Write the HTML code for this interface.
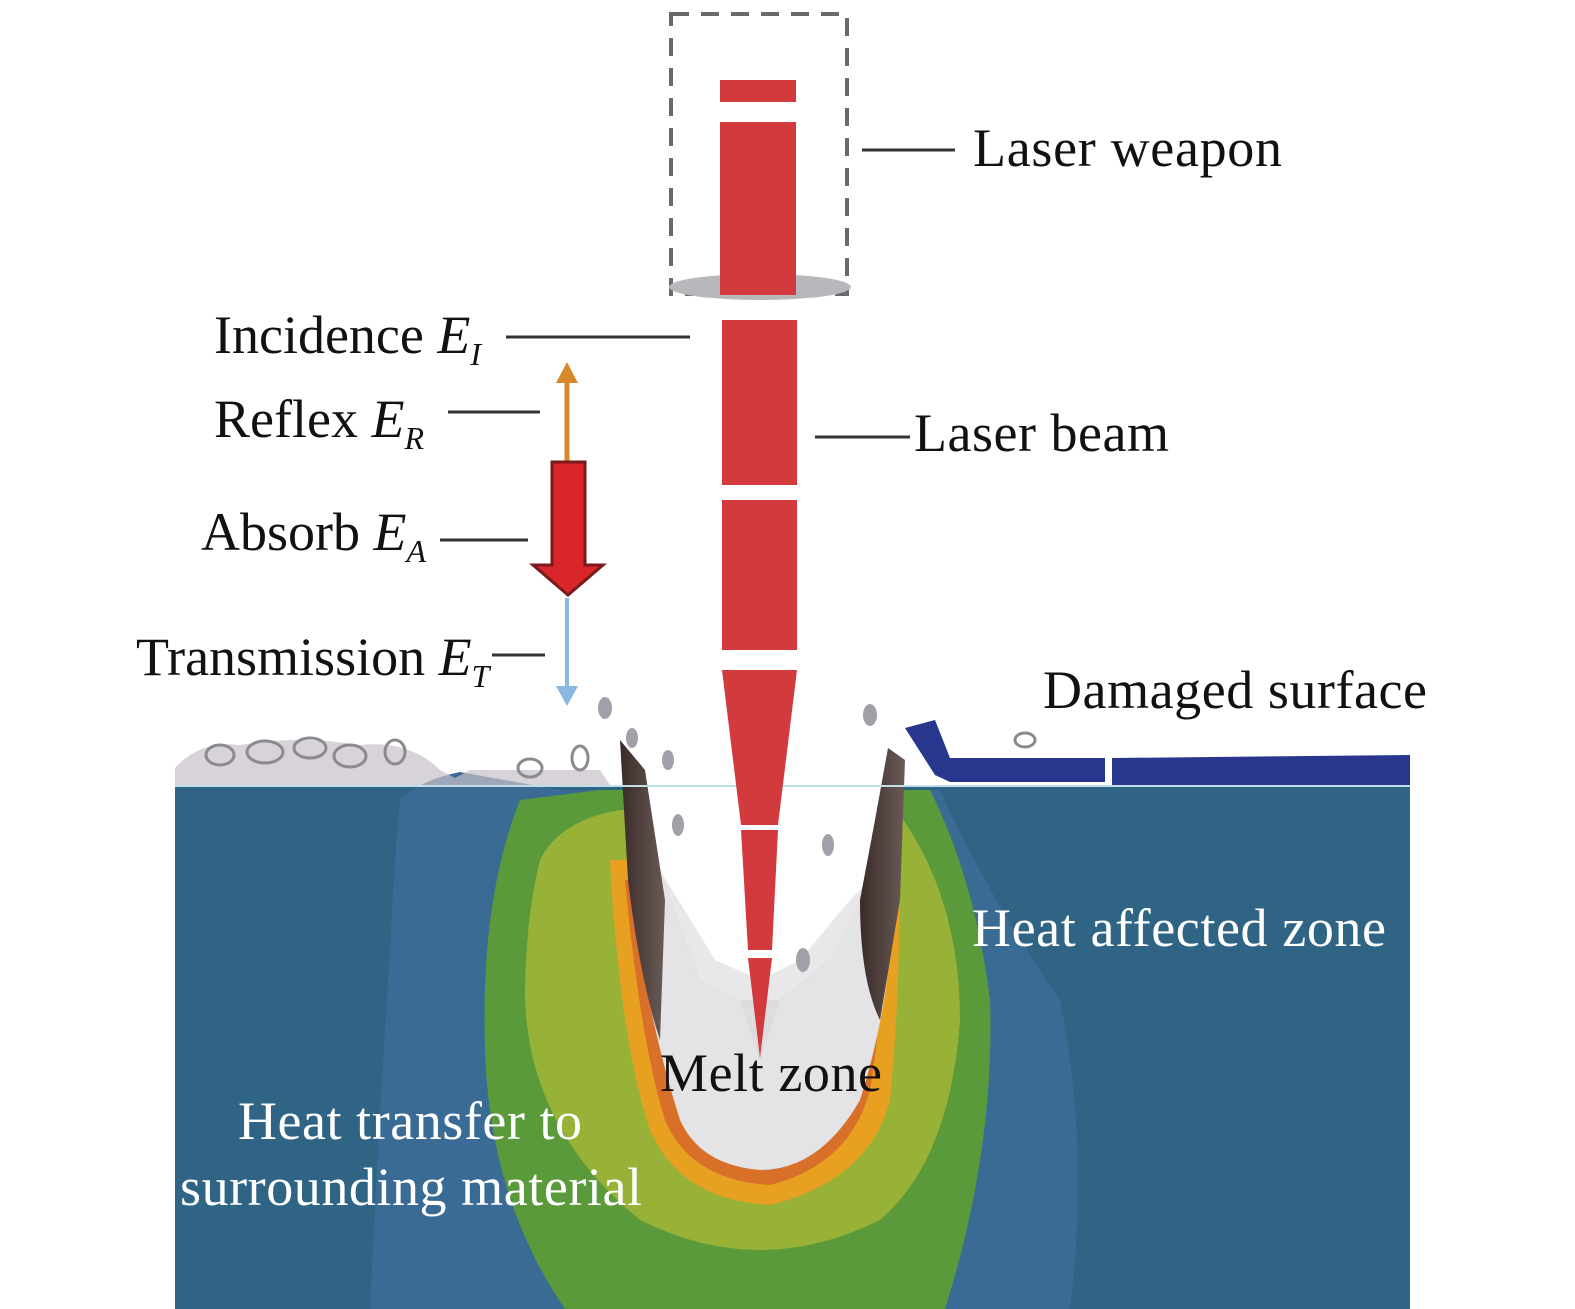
<!DOCTYPE html>
<html><head><style>
body{margin:0;background:#fff;}
svg{display:block}
text{font-family:"Liberation Serif",serif;}
</style></head><body>
<svg width="1575" height="1309" viewBox="0 0 1575 1309" xmlns="http://www.w3.org/2000/svg">
<defs>
<linearGradient id="wall" x1="0" x2="1"><stop offset="0" stop-color="#3a2a28"/><stop offset="1" stop-color="#6a5a58"/></linearGradient>
</defs>
<!-- material -->
<rect x="175" y="785" width="1235" height="524" fill="#2f6485"/>
<path d="M400 800 Q420 780 460 772 L560 790 L940 790 Q990 900 1060 1000 Q1090 1150 1070 1309 L370 1309 Q380 1100 390 950 Q395 850 400 800Z" fill="#3a6b95"/>
<!-- heat zones -->
<path d="M520 800 L600 790 L930 790 Q975 880 990 1000 Q995 1150 945 1309 L565 1309 Q490 1200 485 1050 Q480 900 520 800Z" fill="#5a9a3a"/>
<path d="M540 860 Q560 820 620 810 L900 815 Q960 900 960 1020 Q950 1160 880 1220 Q760 1280 640 1220 Q530 1130 525 1000 Q525 920 540 860Z" fill="#a8b838" opacity="0.8"/>
<path d="M610 860 L900 860 Q900 1000 890 1100 Q870 1180 770 1205 Q680 1200 650 1130 Q620 1040 610 860Z" fill="#e8a020"/>
<path d="M625 880 L885 880 Q885 1000 870 1090 Q850 1165 770 1185 Q690 1180 665 1120 Q640 1040 625 880Z" fill="#d8702a"/>
<!-- melt -->
<path d="M630 880 L660 870 L700 980 L740 1000 L780 1000 L830 960 L870 880 L892 880 Q895 990 860 1100 Q820 1170 760 1170 Q700 1165 680 1120 Q645 1010 630 880Z" fill="#e4e3e6"/>
<!-- white crater opening -->
<path d="M640 760 L888 760 L870 880 L830 960 L780 1000 L740 1000 L700 980 L660 870Z" fill="#fff"/>
<path d="M660 870 L700 980 L740 1000 L760 1060 L780 1000 L830 960 L870 880 L850 900 L800 960 L760 980 L715 960Z" fill="#d8d8dc" opacity="0.6"/>
<!-- walls -->
<path d="M620 740 L645 770 L665 900 L660 1040 Q640 980 628 880 Z" fill="url(#wall)"/>
<path d="M888 748 L905 760 L900 900 L880 1020 Q860 980 860 900 L875 820Z" fill="url(#wall)"/>
<!-- surface debris -->
<path d="M175 785 L175 768 Q200 740 240 745 Q300 735 360 745 Q410 740 440 770 L455 778 L470 770 L520 770 L600 770 L610 785Z" fill="#c8c0c8" opacity="0.7"/>
<g fill="none" stroke="#8a8a90" stroke-width="3">
<ellipse cx="220" cy="755" rx="14" ry="10"/><ellipse cx="265" cy="752" rx="18" ry="11"/><ellipse cx="310" cy="748" rx="16" ry="10"/><ellipse cx="350" cy="756" rx="16" ry="11"/><ellipse cx="395" cy="752" rx="10" ry="12"/><ellipse cx="530" cy="768" rx="12" ry="9"/><ellipse cx="580" cy="758" rx="8" ry="12"/><ellipse cx="1025" cy="740" rx="10" ry="7"/>
</g>
<g fill="#a0a0a8">
<ellipse cx="605" cy="708" rx="7" ry="11"/><ellipse cx="632" cy="738" rx="6" ry="10"/><ellipse cx="668" cy="760" rx="6" ry="10"/><ellipse cx="678" cy="825" rx="6" ry="11"/><ellipse cx="870" cy="715" rx="7" ry="11"/><ellipse cx="828" cy="845" rx="6" ry="11"/><ellipse cx="803" cy="960" rx="7" ry="12"/>
</g>
<!-- damaged surface blue -->
<path d="M905 728 L935 720 L950 758 L1105 758 L1105 782 L950 782 L935 775 Z" fill="#28368e"/>
<path d="M1112 758 L1410 755 L1410 785 L1112 785Z" fill="#28368e"/>
<line x1="175" y1="786" x2="1410" y2="786" stroke="#bfe0e8" stroke-width="2"/>
<!-- dashed box -->
<rect x="671" y="14" width="176" height="280" fill="none" stroke="#6a6a6a" stroke-width="4" stroke-dasharray="18,12"/>
<ellipse cx="760" cy="287" rx="91" ry="13" fill="#b8b8bc"/>
<!-- beam -->
<g fill="#d23a3d">
<rect x="720" y="80" width="76" height="22"/>
<rect x="720" y="122" width="76" height="173"/>
<rect x="722" y="320" width="75" height="165"/>
<rect x="722" y="500" width="75" height="150"/>
<polygon points="722,670 797,670 778,825 741,825"/>
<polygon points="741,830 778,830 772,950 748,950"/>
<polygon points="748,958 772,958 760,1058"/>
</g>
<!-- arrows -->
<line x1="567" y1="462" x2="567" y2="380" stroke="#d8882a" stroke-width="5"/>
<polygon points="556,383 567,362 578,383" fill="#d8882a"/>
<path d="M552 462 L585 462 L585 565 L603 565 L568 595 L533 565 L552 565Z" fill="#d9262a" stroke="#7a1a1a" stroke-width="3"/>
<line x1="567" y1="598" x2="567" y2="690" stroke="#8ab8e0" stroke-width="4"/>
<polygon points="556,686 567,706 578,686" fill="#8ab8e0"/>
<!-- leader lines -->
<g stroke="#333" stroke-width="3">
<line x1="862" y1="150" x2="955" y2="150"/>
<line x1="506" y1="337" x2="690" y2="337"/>
<line x1="448" y1="412" x2="540" y2="412"/>
<line x1="815" y1="437" x2="910" y2="437"/>
<line x1="440" y1="540" x2="528" y2="540"/>
<line x1="492" y1="655" x2="545" y2="655"/>
</g>
<!-- labels -->
<g font-size="54" fill="#111">
<text x="973" y="166" textLength="309">Laser weapon</text>
<text x="914" y="451" textLength="255">Laser beam</text>
<text x="214" y="353">Incidence <tspan font-style="italic">E</tspan><tspan font-style="italic" font-size="32" dy="12">I</tspan></text>
<text x="214" y="437">Reflex <tspan font-style="italic">E</tspan><tspan font-style="italic" font-size="32" dy="12">R</tspan></text>
<text x="201" y="550">Absorb <tspan font-style="italic">E</tspan><tspan font-style="italic" font-size="32" dy="12">A</tspan></text>
<text x="136" y="675">Transmission <tspan font-style="italic">E</tspan><tspan font-style="italic" font-size="32" dy="12">T</tspan></text>
<text x="1043" y="708" textLength="384">Damaged surface</text>
<text x="660" y="1091" textLength="222">Melt zone</text>
</g>
<g font-size="54" fill="#fff">
<text x="972" y="946" textLength="414">Heat affected zone</text>
<text x="238" y="1139" textLength="344">Heat transfer to</text>
<text x="180" y="1205" textLength="462">surrounding material</text>
</g>
</svg>
</body></html>
